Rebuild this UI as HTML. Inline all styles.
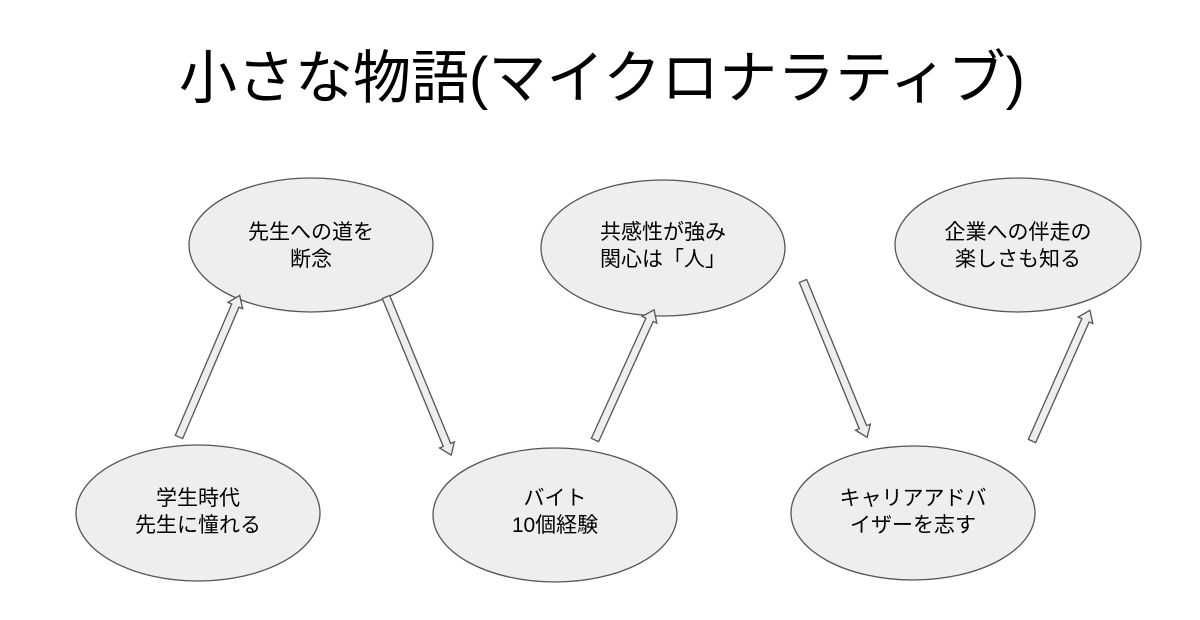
<!DOCTYPE html>
<html><head><meta charset="utf-8"><style>
body{margin:0;background:#fff;width:1200px;height:615px;overflow:hidden}
svg text{font-family:"Liberation Sans","Noto Sans CJK JP",sans-serif}
</style></head><body>
<svg width="1200" height="615" viewBox="0 0 1200 615">
<text x="602" y="98" font-size="58" text-anchor="middle" fill="#000">小さな物語(マイクロナラティブ)</text>
<g fill="#eeeeee" stroke="#555" stroke-width="1.3">
<ellipse cx="198" cy="513" rx="122" ry="68"/>
<ellipse cx="311" cy="245" rx="122" ry="67"/>
<ellipse cx="555" cy="515" rx="122" ry="67"/>
<ellipse cx="663" cy="248" rx="122" ry="68"/>
<ellipse cx="913" cy="513" rx="122" ry="67"/>
<ellipse cx="1018" cy="245" rx="123" ry="67"/>
</g>
<g fill="#eeeeee" stroke="#555" stroke-width="1.3">
<g transform="translate(179,437) rotate(-66.8)"><polygon points="0,-4 143,-4 143,-8 154,0 143,8 143,4 0,4"/></g>
<g transform="translate(386,297) rotate(67.6)"><polygon points="0,-4 160,-4 160,-8 171,0 160,8 160,4 0,4"/></g>
<g transform="translate(595,440) rotate(-65.6)"><polygon points="0,-4 132,-4 132,-8 143,0 132,8 132,4 0,4"/></g>
<g transform="translate(803,281) rotate(67.7)"><polygon points="0,-4 158,-4 158,-8 169,0 158,8 158,4 0,4"/></g>
<g transform="translate(1032,441) rotate(-66.1)"><polygon points="0,-4 132,-4 132,-8 143,0 132,8 132,4 0,4"/></g>
</g>
<g font-size="21" text-anchor="middle" fill="#000">
<text x="198" y="505">学生時代</text><text x="198" y="532">先生に憧れる</text>
<text x="311" y="239">先生への道を</text><text x="311" y="266">断念</text>
<text x="555" y="505">バイト</text><text x="555" y="532">10個経験</text>
<text x="663" y="239">共感性が強み</text><text x="663" y="266">関心は「人」</text>
<text x="913" y="505">キャリアアドバ</text><text x="913" y="532">イザーを志す</text>
<text x="1018" y="239">企業への伴走の</text><text x="1018" y="266">楽しさも知る</text>
</g>
</svg>
</body></html>
